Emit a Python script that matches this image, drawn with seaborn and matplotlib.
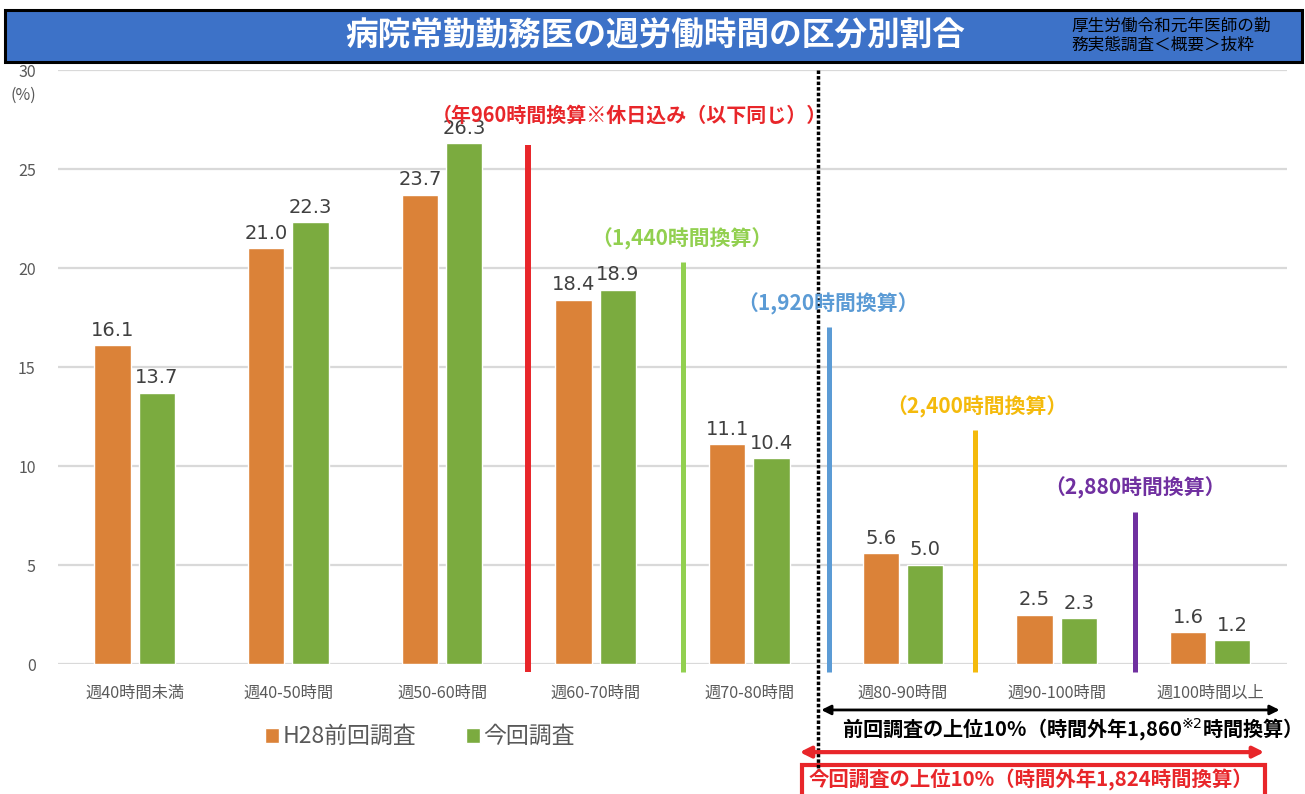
import numpy as np
import pandas as pd
import matplotlib
matplotlib.use("Agg")
import matplotlib.pyplot as plt
from matplotlib.patches import Rectangle
import seaborn as sns

# --- data ---
categories = ["週40時間未満", "週40-50時間", "週50-60時間", "週60-70時間",
              "週70-80時間", "週80-90時間", "週90-100時間", "週100時間以上"]
series_names = ["H28前回調査", "今回調査"]
h28_values = [16.1, 21.0, 23.7, 18.4, 11.1, 5.6, 2.5, 1.6]
current_values = [13.7, 22.3, 26.3, 18.9, 10.4, 5.0, 2.3, 1.2]

threshold_labels = ["（年960時間換算※休日込み（以下同じ））", "（1,440時間換算）",
                    "（1,920時間換算）", "（2,400時間換算）", "（2,880時間換算）"]
threshold_tops = [26.2, 20.3, 17.0, 11.8, 7.7]

title = "病院常勤勤務医の週労働時間の区分別割合"
source_note = "厚生労働令和元年医師の勤\n務実態調査＜概要＞抜粋"
prev_top_text = "前回調査の上位10%（時間外年1,860$^{※2}$時間換算）"
curr_top_text = "今回調査の上位10%（時間外年1,824時間換算）"

df = pd.DataFrame({
    "category": categories * 2,
    "series": [series_names[0]] * len(categories) + [series_names[1]] * len(categories),
    "value": h28_values + current_values,
})

sns.set_theme(style="white")
plt.rcParams["font.family"] = ["Noto Sans CJK JP", "DejaVu Sans"]

fig = plt.figure(figsize=(13.05, 7.94), dpi=100)
ax = fig.add_axes([0.0444, 0.1637, 0.9418, 0.7481])

sns.barplot(data=df, x="category", y="value", hue="series",
            palette=["#DB8238", "#7BAB3F"], width=0.576, gap=0.18,
            saturation=1, ax=ax)

for cont in ax.containers:
    ax.bar_label(cont, fmt="%.1f", padding=4, fontsize=14, color="#404040",
                 family=["DejaVu Sans"])

ax.set_xlim(-0.5, 7.5)
ax.set_ylim(0, 30)
ax.set_yticks([0, 5, 10, 15, 20, 25, 30])
ax.yaxis.grid(True, color="#D9D9D9", lw=1.6)
ax.set_axisbelow(True)
sns.despine(ax=ax, left=True, bottom=True)
ax.tick_params(axis="x", length=0, pad=15, labelsize=11.7, labelcolor="#595959")
ax.tick_params(axis="y", length=0, pad=16, labelsize=11.5, labelcolor="#595959")
ax.set_xlabel("")
ax.set_ylabel("")
ax.text(-0.64, 28.7, "(%)", ha="right", va="center", fontsize=11.5, color="#595959")

# threshold lines
th_x = [2.56, 3.57, 4.52, 5.47, 6.51]
th_colors = ["#E8262A", "#92D050", "#5B9BD5", "#F4BA0C", "#7030A0"]
th_lw = [4.3, 3.6, 3.6, 3.6, 3.6]
th_text_x = [3.22, 3.56, 4.51, 5.48, 6.51]
for i, lab in enumerate(threshold_labels):
    ax.plot([th_x[i], th_x[i]], [-0.4, threshold_tops[i]], color=th_colors[i],
            lw=th_lw[i], clip_on=False, solid_capstyle="butt")
    ax.text(th_text_x[i], threshold_tops[i] + (1.5 if i == 0 else 1.2), lab,
            ha="center", va="center", fontsize=(14.4 if i == 0 else 15),
            fontweight="bold", color=th_colors[i], clip_on=False)

# dotted divider
ax.plot([4.45, 4.45], [30, -5.4], color="black", lw=2.5, ls=(0, (1, 0.6)),
        clip_on=False)

# previous-survey arrow and text
ax.annotate("", xy=(7.47, -2.32), xytext=(4.45, -2.32),
            arrowprops=dict(arrowstyle="<|-|>", color="black", lw=2,
                            mutation_scale=14),
            annotation_clip=False)
ax.text(6.07, -3.35, prev_top_text, ha="center", va="center", fontsize=14.5,
        fontweight="bold", color="black", clip_on=False)

# current-survey arrow and boxed text
ax.annotate("", xy=(7.37, -4.45), xytext=(4.31, -4.45),
            arrowprops=dict(arrowstyle="<|-|>", color="#E8262A", lw=3,
                            mutation_scale=16),
            annotation_clip=False)
ax.add_patch(Rectangle((4.34, -7.5), 3.02, 2.4, facecolor="white",
                       edgecolor="#E8262A", lw=3, clip_on=False))
ax.text(5.83, -5.87, curr_top_text, ha="center", va="center", fontsize=14.7,
        fontweight="bold", color="#E8262A", clip_on=False)

# legend
sns.move_legend(ax, "center", bbox_to_anchor=(0.322, 0.072),
                bbox_transform=fig.transFigure, ncol=2, frameon=False,
                title=None, fontsize=16.5, handlelength=0.6, handleheight=0.6,
                handletextpad=0.15, columnspacing=2.2)
for t in ax.get_legend().get_texts():
    t.set_color("#595959")

# title bar
fig.patches.append(Rectangle((0.004, 0.922), 0.994, 0.065, transform=fig.transFigure,
                             facecolor="#3D72C8", edgecolor="black", lw=2.2))
fig.text(0.502, 0.955, title, ha="center", va="center", color="white",
         fontsize=23.5, fontweight="bold")
fig.text(0.821, 0.955, source_note, ha="left", va="center", color="black",
         fontsize=12, linespacing=1.15)

fig.savefig("out.png", dpi=100)
